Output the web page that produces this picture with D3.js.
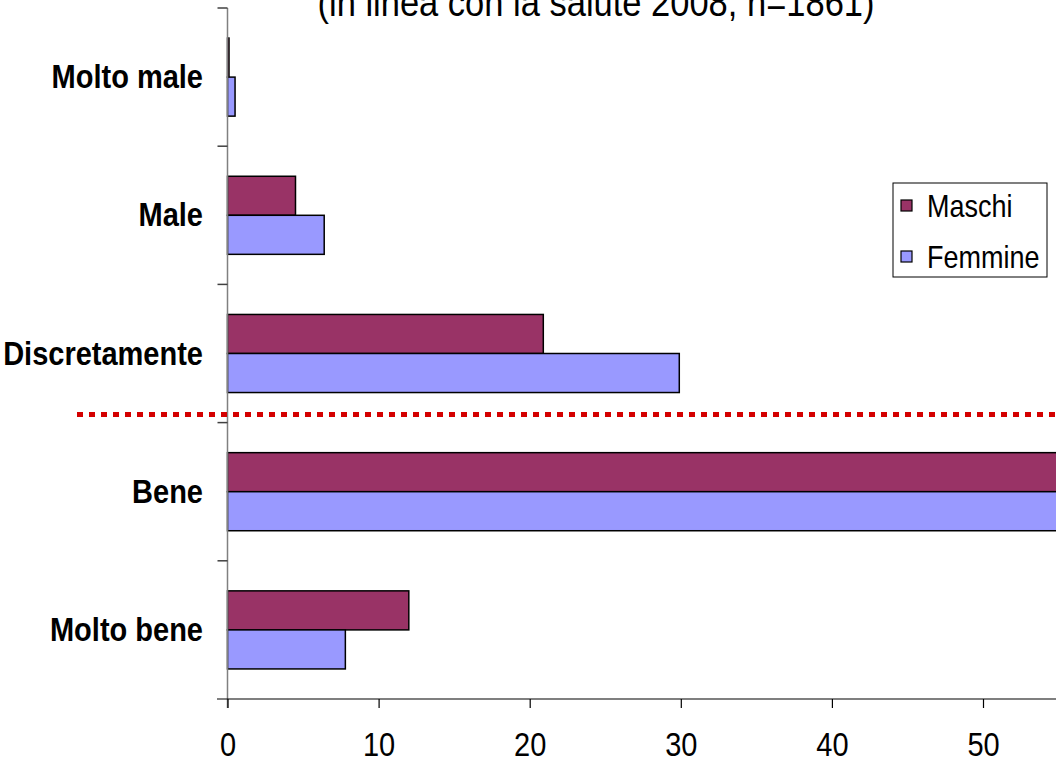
<!DOCTYPE html>
<html>
<head>
<meta charset="utf-8">
<script src="https://cdn.jsdelivr.net/npm/d3@7"></script>
<style>
  html, body { margin: 0; padding: 0; background: #fff; }
  svg { display: block; }
  text { font-family: "Liberation Sans", Arial, sans-serif; fill: #000; }
</style>
</head>
<body>
<svg id="chart" width="1056" height="764"></svg>
<script>
// Perceived health by sex (percentages)
const categories = ["Molto male", "Male", "Discretamente", "Bene", "Molto bene"];
const seriesNames = ["Maschi", "Femmine"];
const maschi = [0.1, 4.5, 20.9, 62.5, 12.0];
const femmine = [0.5, 6.4, 29.9, 55.4, 7.8];
const xTicks = [0, 10, 20, 30, 40, 50];
const colors = ["#993366", "#9999FF"];
const titleText = "(in linea con la salute 2008, n=1861)";

// glyphs are drawn slightly taller than wide
const SY = 1.13;
function place(sel, px, py) {
  return sel.attr("x", 0).attr("y", 0)
    .attr("transform", typeof px === "function"
      ? (d, i) => `translate(${px(d, i)},${py(d, i)}) scale(1,${SY})`
      : `translate(${px},${py}) scale(1,${SY})`);
}

const svg = d3.select("#chart");

const x = d3.scaleLinear().domain([0, 50]).range([227.5, 983]);
const y = d3.scaleBand().domain(categories).range([8, 699]).padding(0);
const inner = d3.scaleBand().domain(seriesNames)
  .range([0, y.bandwidth()]).paddingOuter(0.77).paddingInner(0);

// title (partly above the top edge)
place(svg.append("text"), 596, 16)
  .attr("text-anchor", "middle")
  .attr("font-size", 34.5)
  .text(titleText);

// bars
const rows = categories.map((c, i) => ({ cat: c, values: [maschi[i], femmine[i]] }));
const groups = svg.append("g").selectAll("g")
  .data(rows).join("g")
  .attr("transform", d => `translate(0,${y(d.cat)})`);

groups.selectAll("rect")
  .data(d => d.values.map((v, j) => ({ name: seriesNames[j], value: v, j })))
  .join("rect")
  .attr("x", x(0))
  .attr("y", d => inner(d.name))
  .attr("width", d => x(d.value) - x(0))
  .attr("height", inner.bandwidth())
  .attr("fill", d => colors[d.j])
  .attr("stroke", "#000")
  .attr("stroke-width", 1.5);

// category axis on the left
const yAxisG = svg.append("g").attr("transform", `translate(${x(0)},0)`);
yAxisG.append("line")
  .attr("x1", 0).attr("x2", 0).attr("y1", 8).attr("y2", 708)
  .attr("stroke", "#808080").attr("stroke-width", 1.5);
const yBounds = categories.map(c => y(c));
yAxisG.selectAll("line.tick").data(yBounds).join("line")
  .attr("class", "tick")
  .attr("x1", -10).attr("x2", 0)
  .attr("y1", d => d).attr("y2", d => d)
  .attr("stroke", "#404040").attr("stroke-width", 1.5);

place(svg.append("g").selectAll("text").data(categories).join("text"),
      () => 203, d => y(d) + y.bandwidth() / 2 + 11)
  .attr("text-anchor", "end")
  .attr("font-size", 29)
  .attr("font-weight", "bold")
  .text(d => d);

// value axis
const xAxis = d3.axisBottom(x).tickValues(xTicks).tickSize(9).tickPadding(10)
  .tickFormat(d3.format("d"));
const xAxisG = svg.append("g").attr("transform", "translate(0,699)").call(xAxis);
xAxisG.select(".domain").remove();
xAxisG.append("line")
  .attr("x1", 217).attr("x2", 1056).attr("y1", 0).attr("y2", 0)
  .attr("stroke", "#000").attr("stroke-width", 1.2);
xAxisG.selectAll(".tick line").attr("stroke", "#000").attr("stroke-width", 1.2);
xAxisG.selectAll(".tick text")
  .attr("font-size", 29)
  .attr("font-family", "Liberation Sans, Arial, sans-serif")
  .attr("fill", "#000")
  .attr("dy", "0")
  .attr("x", 0).attr("y", 0)
  .attr("transform", `translate(0,57) scale(1,${SY})`);

// red dotted separator between "Discretamente" and "Bene"
svg.append("line")
  .attr("x1", 77).attr("x2", 1056)
  .attr("y1", 414.5).attr("y2", 414.5)
  .attr("stroke", "#D40000")
  .attr("stroke-width", 5)
  .attr("stroke-dasharray", "6,6");

// legend
const legend = svg.append("g").attr("transform", "translate(893,183)");
legend.append("rect")
  .attr("width", 154).attr("height", 94)
  .attr("fill", "#fff").attr("stroke", "#000").attr("stroke-width", 1);
const items = legend.selectAll("g.item").data(seriesNames).join("g")
  .attr("class", "item")
  .attr("transform", (d, i) => `translate(0,${17 + i * 51})`);
items.append("rect")
  .attr("x", 8).attr("y", 0).attr("width", 11).attr("height", 11)
  .attr("fill", (d, i) => colors[i]).attr("stroke", "#000").attr("stroke-width", 1.2);
place(items.append("text"), 34, 17)
  .attr("font-size", 27)
  .text(d => d);
</script>
</body>
</html>
